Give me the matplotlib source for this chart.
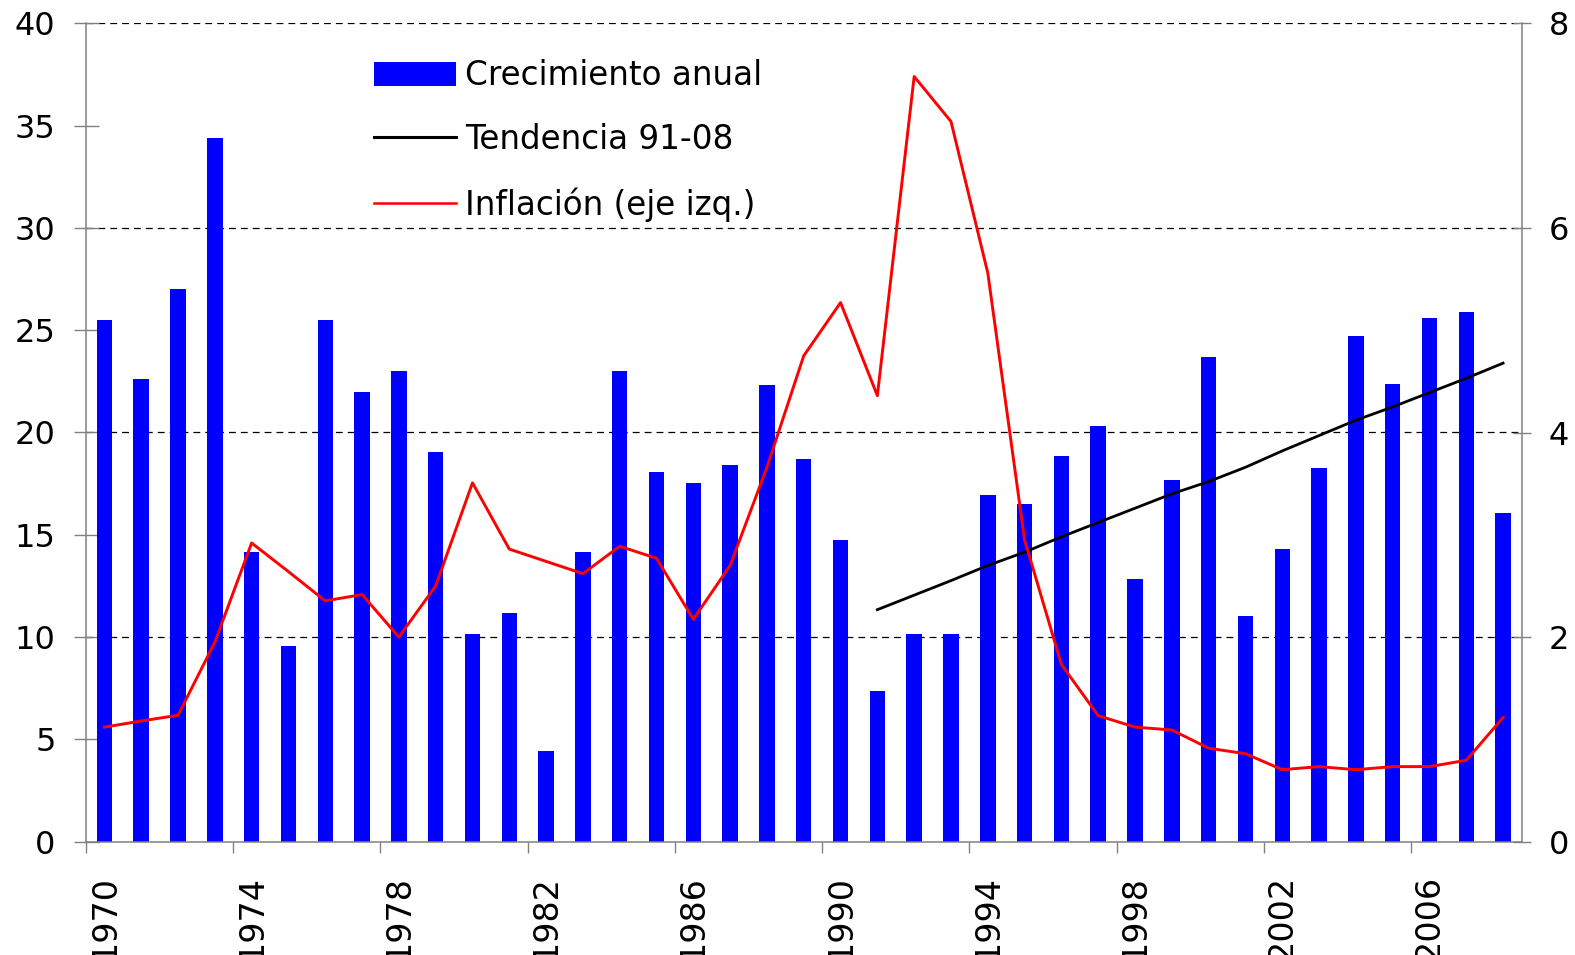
# -*- coding: utf-8 -*-
import numpy as np
import matplotlib
matplotlib.use("Agg")
import matplotlib.pyplot as plt
from matplotlib.lines import Line2D
from matplotlib.patches import Patch

# 1. Datos
anios = list(range(1970, 2009))

crecimiento = [25.5, 22.6, 27.0, 34.4, 14.15, 9.57, 25.5, 22.0, 23.0, 19.05,
               10.16, 11.2, 4.41, 14.15, 23.0, 18.06, 17.54, 18.4, 22.3, 18.72,
               14.74, 7.36, 10.16, 10.16, 16.95, 16.5, 18.87, 20.32, 12.82, 17.7,
               23.68, 11.05, 14.3, 18.28, 24.7, 22.36, 25.58, 25.87, 16.07]

inflacion = [5.6, 5.9, 6.18, 9.75, 14.6, 13.2, 11.77, 12.08, 10.0, 12.5,
             17.54, 14.3, 13.7, 13.1, 14.44, 13.85, 10.87, 13.5, 18.3, 23.75,
             26.35, 21.8, 37.4, 35.2, 27.8, 14.75, 8.66, 6.16, 5.6, 5.46,
             4.57, 4.3, 3.52, 3.67, 3.52, 3.67, 3.67, 3.98, 6.07]

anios_tend = list(range(1991, 2009))
tendencia = [11.34, 12.05, 12.76, 13.5, 14.15, 14.9, 15.6, 16.3, 17.0, 17.6,
             18.3, 19.1, 19.85, 20.6, 21.25, 21.95, 22.65, 23.39]

etiquetas_x = [str(a) for a in anios[::4]]
ticks_izq = [0, 5, 10, 15, 20, 25, 30, 35, 40]
ticks_der = [0, 2, 4, 6, 8]

AZUL = "#0000FF"
ROJO = "#FF0000"
GRIS = "#808080"

plt.rcParams['font.family'] = ['DejaVu Sans']

# 2. Figura
fig = plt.figure(figsize=(15.75, 9.55), dpi=100)
ax = fig.add_axes([86 / 1575, (955 - 841.7) / 955, (1521.5 - 86) / 1575, (841.7 - 23.3) / 955])

x = np.arange(len(anios))
x_tend = np.array([anios.index(a) for a in anios_tend])

# líneas de referencia (a la altura de los ticks del eje derecho)
for v in ticks_der[1:]:
    ax.axhline(v * 5, color="black", lw=0.9, linestyle=(0, (5.5, 4)), zorder=1)

ax.bar(x, crecimiento, width=0.42, color=AZUL, zorder=2)
ax.plot(x_tend, tendencia, color="black", lw=2.0, zorder=3)
ax.plot(x, inflacion, color=ROJO, lw=2.1, zorder=4)

ax.set_xlim(-0.5, len(anios) - 0.5)
ax.set_ylim(0, 40)
ax.set_yticks(ticks_izq)
ax.tick_params(axis="y", direction="inout", length=18, width=1.0, color=GRIS,
               labelsize=23, pad=13)

ax.set_xticks(x[::4])
ax.set_xticklabels(etiquetas_x, rotation=90, va="top", ha="center")
ax.tick_params(axis="x", which="major", length=0, labelsize=24, pad=24)
ax.set_xticks(np.arange(-0.5, len(anios) - 1, 4), minor=True)
ax.tick_params(axis="x", which="minor", direction="out", length=8, width=1.0, color=GRIS)

for lado in ["top", "right"]:
    ax.spines[lado].set_visible(False)
for lado in ["left", "bottom"]:
    ax.spines[lado].set_color(GRIS)
    ax.spines[lado].set_linewidth(1.1)

# eje derecho
ax2 = ax.twinx()
ax2.set_ylim(0, 8)
ax2.set_yticks(ticks_der)
ax2.tick_params(axis="y", direction="inout", length=13, width=1.0, color=GRIS,
                labelsize=23, pad=13)
for lado in ["top", "left", "bottom"]:
    ax2.spines[lado].set_visible(False)
ax2.spines["right"].set_color(GRIS)
ax2.spines["right"].set_linewidth(1.1)

# leyenda
handles = [Patch(facecolor=AZUL, edgecolor="none"),
           Line2D([], [], color="black", lw=2.2),
           Line2D([], [], color=ROJO, lw=1.8)]
labels = ["Crecimiento anual", "Tendencia 91-08", "Inflación (eje izq.)"]
ax2.legend(handles, labels, loc="upper left", bbox_to_anchor=(374 / 1575, 1 - 59 / 955),
           bbox_transform=fig.transFigure, frameon=False, fontsize=23.5,
           borderpad=0, borderaxespad=0, handlelength=2.5, handleheight=0.75,
           handletextpad=0.3, labelspacing=0.95)

fig.savefig("out.png", dpi=100)
